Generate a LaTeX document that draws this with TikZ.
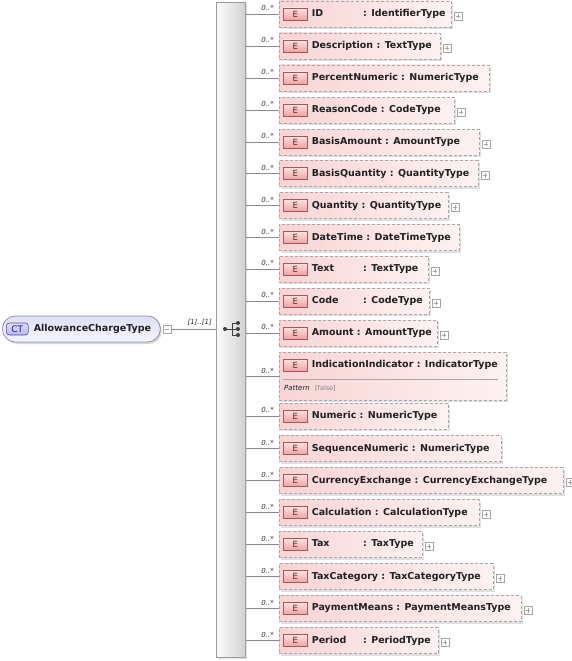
\documentclass[tikz,border=0pt]{standalone}
\usepackage{fontspec}
\setmainfont{DejaVu Sans}
\usetikzlibrary{shadows,calc}
\definecolor{connc}{HTML}{8A8A8A}
\definecolor{eborder}{HTML}{A8A8A8}
\definecolor{ebl}{HTML}{F9D4D4}
\definecolor{ebr}{HTML}{FEF2F2}
\definecolor{ebtop}{HTML}{FDE2E2}
\definecolor{ebbot}{HTML}{EFA2A2}
\definecolor{ebdraw}{HTML}{A05A5A}
\definecolor{ebtext}{HTML}{6B1F1F}
\definecolor{plusc}{HTML}{A6A6A6}
\definecolor{compl}{HTML}{FBFBFB}
\definecolor{compr}{HTML}{D2D2D2}
\definecolor{compd}{HTML}{9C9C9C}
\definecolor{ctdraw}{HTML}{8C8CB4}
\definecolor{cttop}{HTML}{DEDEF6}
\definecolor{ctbot}{HTML}{F7F7FF}
\definecolor{ctbtop}{HTML}{DCDCFF}
\definecolor{ctbbot}{HTML}{B8B8F0}
\definecolor{ctbdraw}{HTML}{4B4B9B}
\definecolor{ctbtext}{HTML}{1E1E6E}
\definecolor{textc}{HTML}{202020}
\definecolor{multc}{HTML}{303030}
\definecolor{iconc}{HTML}{404040}
\newcommand\nmpad[1]{\setbox0=\hbox{#1}\ifdim\wd0<40pt\makebox[48pt][l]{#1}\else#1\fi}
\tikzset{
  conn/.style={draw=connc, line width=0.8pt},
  ebox/.style={rectangle, draw=eborder, dash pattern=on 3pt off 2pt, line width=0.8pt,
    left color=ebl, right color=ebr, inner sep=0pt, minimum height=26pt,
    drop shadow={shadow xshift=2pt, shadow yshift=-2pt, fill=black, opacity=0.12}},
  ebadge/.style={rectangle, draw=ebdraw, top color=ebtop, bottom color=ebbot, line width=0.6pt,
    minimum width=24pt, minimum height=12pt, inner sep=0pt,
    font=\fontsize{8.5}{9}\selectfont, text=ebtext},
  etext/.style={inner sep=0pt, font=\bfseries\fontsize{9.5}{11}\selectfont, text=textc},
  mult/.style={inner sep=0pt, font=\itshape\fontsize{7}{8}\selectfont, text=multc},
  plusbox/.style={rectangle, draw=plusc, fill=white, minimum size=8pt, inner sep=0pt, line width=0.5pt,
    path picture={\draw[plusc, line width=0.5pt]
      ([xshift=-2.2pt]path picture bounding box.center) -- ([xshift=2.2pt]path picture bounding box.center)
      ([yshift=-2.2pt]path picture bounding box.center) -- ([yshift=2.2pt]path picture bounding box.center);}},
  minusbox/.style={rectangle, draw=plusc, fill=white, minimum size=8pt, inner sep=0pt, line width=0.5pt,
    path picture={\draw[plusc, line width=0.5pt]
      ([xshift=-2.2pt]path picture bounding box.center) -- ([xshift=2.2pt]path picture bounding box.center);}},
  compbox/.style={rectangle, draw=compd, left color=compl, right color=compr, line width=0.7pt, inner sep=0pt,
    drop shadow={shadow xshift=2pt, shadow yshift=-2pt, fill=black, opacity=0.10}},
  ctbox/.style={rectangle, rounded corners=13pt, draw=ctdraw, top color=cttop, bottom color=ctbot,
    line width=0.8pt, inner sep=0pt, minimum height=26pt,
    drop shadow={shadow xshift=1.5pt, shadow yshift=-2pt, fill=black, opacity=0.15}},
  ctbadge/.style={rectangle, rounded corners=3pt, draw=ctbdraw, top color=ctbtop, bottom color=ctbbot,
    line width=0.6pt, minimum width=22pt, minimum height=12pt, inner sep=0pt,
    font=\fontsize{9}{10}\selectfont, text=ctbtext},
  icondot/.style={circle, fill=iconc, inner sep=0pt, minimum size=4pt},
  iconline/.style={draw=iconc, line width=0.9pt},
  sepline/.style={draw=eborder, line width=0.6pt},
  pat/.style={inner sep=0pt, font=\itshape\fontsize{7}{8}\selectfont, text=textc},
  patv/.style={inner sep=0pt, font=\fontsize{6.5}{8}\selectfont, text=gray},
}
\newcommand\elrow[6]{%
  \node[ebox, anchor=west, minimum width={#3pt-279pt}] (#1) at (279,#2) {};
  \node[ebadge, anchor=west] (#1e) at ([xshift=4pt]#1.west) {E};
  \node[etext, anchor=west] (#1t) at ([xshift=4pt]#1e.east) {\nmpad{#4} : #5};
  \node[mult, anchor=south east] (#1m) at ([xshift=-5pt,yshift=3pt]#1.west) {0..*};
  \draw[conn] (seq.east |- #1.west) -- (#1.west);
  \ifnum#6=1 \node[plusbox, anchor=west] (#1p) at ([xshift=2pt,yshift=-2pt]#1.east) {};\fi
}
\begin{document}
\begin{tikzpicture}[x=1pt, y=-1pt]
\useasboundingbox (0,0) rectangle (572,661);
% compositor
\node[compbox, minimum width=29pt, minimum height=655pt, anchor=north west] (seq) at (216,2) {};
\coordinate (sq0) at (225,329);
\coordinate (sqv) at (232,329);
\coordinate (sq1) at (238,323);
\coordinate (sq2) at (238,329);
\coordinate (sq3) at (238,335);
\draw[iconline] (sq0) -- (sqv) (sqv |- sq1) -- (sqv |- sq3)
  (sqv |- sq1) -- (sq1) (sqv) -- (sq2) (sqv |- sq3) -- (sq3);
\node[icondot] (d0) at (sq0) {};
\node[icondot] (d1) at (sq1) {};
\node[icondot] (d2) at (sq2) {};
\node[icondot] (d3) at (sq3) {};
% complex type
\node[ctbox, minimum width=158pt, anchor=west] (ct) at (2,329) {};
\node[ctbadge, anchor=west] (ctb) at ([xshift=4pt]ct.west) {CT};
\node[etext, anchor=west] (ctt) at ([xshift=5pt]ctb.east) {AllowanceChargeType};
\node[minusbox, anchor=west] (ctm) at ([xshift=2pt]ct.east) {};
\draw[conn] (ctm.east) -- (ctm.east -| seq.west);
\node[mult, anchor=south east] (ctl) at ([xshift=-4pt,yshift=3pt]ctm.east -| seq.west) {[1]..[1]};
% elements
\elrow{id}{14}{451}{ID}{IdentifierType}{1}
\elrow{desc}{46}{440}{Description}{TextType}{1}
\elrow{pct}{78}{489}{PercentNumeric}{NumericType}{0}
\elrow{rc}{110}{454}{ReasonCode}{CodeType}{1}
\elrow{ba}{142}{479}{BasisAmount}{AmountType}{1}
\elrow{bq}{173.5}{478}{BasisQuantity}{QuantityType}{1}
\elrow{qty}{205.5}{448}{Quantity}{QuantityType}{1}
\elrow{dt}{237.5}{459}{DateTime}{DateTimeType}{0}
\elrow{txt}{269}{428}{Text}{TextType}{1}
\elrow{code}{301}{429}{Code}{CodeType}{1}
\elrow{amt}{333}{437}{Amount}{AmountType}{1}
% indication indicator
\node[ebox, anchor=north west, minimum width=227pt, minimum height=48pt] (ind) at (279,352) {};
\node[ebadge, anchor=west] (inde) at (283,365) {E};
\node[etext, anchor=west] (indt) at ([xshift=4pt]inde.east) {IndicationIndicator : IndicatorType};
\draw[sepline] ($(ind.north west)+(4,27)$) -- ($(ind.north east)+(-9,27)$);
\node[pat, anchor=west] (indp) at (284,388) {Pattern};
\node[patv, anchor=west] (indv) at (315,388) {[false]};
\node[mult, anchor=south east] (indm) at ([xshift=-5pt,yshift=3pt]ind.west) {0..*};
\draw[conn] (seq.east |- ind.west) -- (ind.west);
\elrow{num}{416}{448}{Numeric}{NumericType}{0}
\elrow{seqn}{448.5}{501}{SequenceNumeric}{NumericType}{0}
\elrow{ce}{480.5}{563}{CurrencyExchange}{CurrencyExchangeType}{1}
\elrow{calc}{512.5}{479}{Calculation}{CalculationType}{1}
\elrow{tax}{544.5}{422}{Tax}{TaxType}{1}
\elrow{tc}{576.5}{493}{TaxCategory}{TaxCategoryType}{1}
\elrow{pm}{608.5}{521}{PaymentMeans}{PaymentMeansType}{1}
\elrow{per}{640.5}{438}{Period}{PeriodType}{1}
\end{tikzpicture}
\end{document}
